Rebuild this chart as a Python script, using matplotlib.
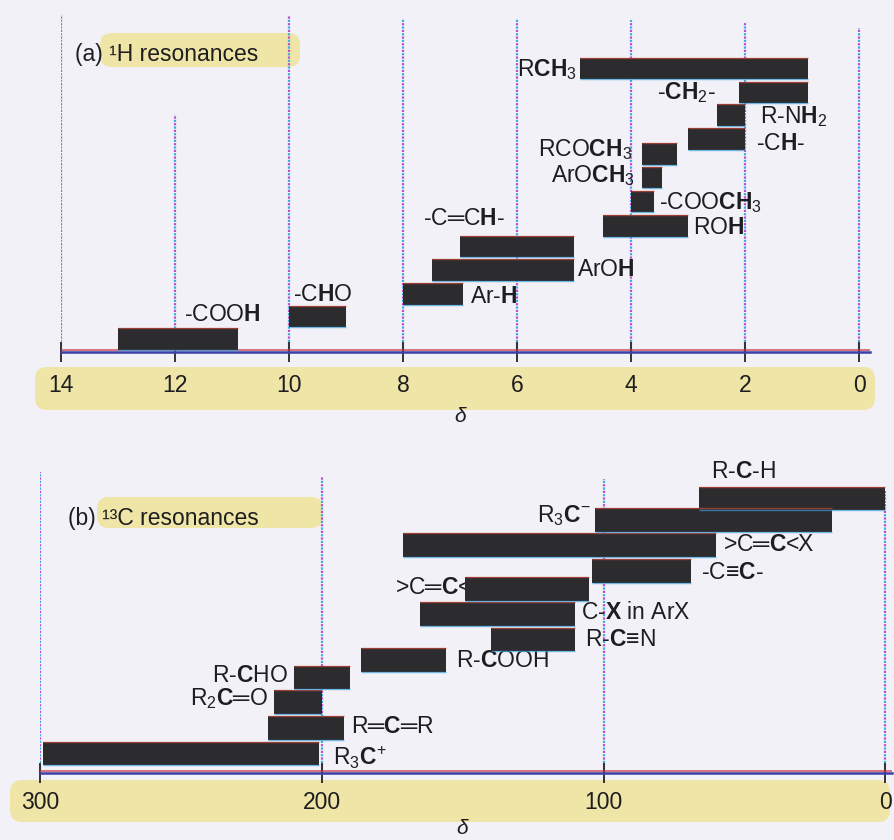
import matplotlib
matplotlib.use('Agg')
import matplotlib.pyplot as plt
from matplotlib.patches import FancyBboxPatch
from matplotlib.transforms import IdentityTransform

plt.rcParams['font.family'] = ['Liberation Sans', 'DejaVu Sans']
plt.rcParams['mathtext.fontset'] = 'custom'
plt.rcParams['mathtext.rm'] = 'Liberation Sans'
plt.rcParams['mathtext.bf'] = 'Liberation Sans:bold'
plt.rcParams['mathtext.it'] = 'Liberation Sans:italic'
plt.rcParams['mathtext.sf'] = 'Liberation Sans'
plt.rcParams['mathtext.default'] = 'regular'
plt.rcParams['mathtext.fallback'] = 'stixsans'

W, H = 894, 840
BG = '#f3f1f8'
BAR = '#2c2b2e'
HL = '#efe5a6'
TXT = '#1e1d20'

# ---- (a) 1H resonances, delta ranges in ppm
h_names = [r'-COO$\mathbf{H}$', r'-C$\mathbf{H}$O', r'Ar-$\mathbf{H}$', r'ArO$\mathbf{H}$',
           r'-C═C$\mathbf{H}$-', r'RO$\mathbf{H}$', r'-COO$\mathbf{CH}_3$', r'ArO$\mathbf{CH}_3$',
           r'RCO$\mathbf{CH}_3$', r'-C$\mathbf{H}$-', r'R-N$\mathbf{H}_2$', r'-$\mathbf{CH}_2$-',
           r'R$\mathbf{CH}_3$']
h_lo = [10.9, 9.0, 6.95, 5.0, 5.0, 3.0, 3.6, 3.45, 3.2, 2.0, 2.0, 0.9, 0.9]
h_hi = [13.0, 10.0, 8.0, 7.5, 7.0, 4.5, 4.0, 3.8, 3.8, 3.0, 2.5, 2.1, 4.9]
h_ticks = [14, 12, 10, 8, 6, 4, 2, 0]

# ---- (b) 13C resonances
c_names = [r'R-$\mathbf{C}$-H', r'R$_3$$\mathbf{C}^{-}$', r'>C═$\mathbf{C}$<X', r'-C≡$\mathbf{C}$-',
           r'>C═$\mathbf{C}$<', r'C-$\mathbf{X}$ in ArX', r'R-$\mathbf{C}$≡N', r'R-$\mathbf{C}$OOH',
           r'R-$\mathbf{C}$HO', r'R$_2$$\mathbf{C}$═O', r'R═$\mathbf{C}$═R', r'R$_3$$\mathbf{C}^{+}$']
c_lo = [0, 19, 60, 69, 105, 110, 110, 156, 190, 200, 192, 201]
c_hi = [66, 103, 171, 104, 149, 165, 140, 186, 210, 217, 219, 299]
c_ticks = [300, 200, 100, 0]

# layout: row levels, label placement (side, dx px, dy px), gridline tops
h_rows = [0.56, 1.52, 2.49, 3.52, 4.53, 5.41, 6.46, 7.49, 8.5, 9.14, 10.17, 11.14, 12.17]
h_place = [('A', 66, 24), ('A', 4, 22), ('R', 7, -3), ('R', 3, 0), ('A', -37, 28), ('R', 5, -2),
           ('R', 5, -1), ('L', -7, 2), ('L', -10, 4), ('R', 11, -4), ('R', 15, -2), ('L', -23, 0),
           ('L', -3, -1)]
h_tops = [14.46, 10.17, 14.4, 14.3, 14.3, 14.25, 14.1, 13.9]

c_rows = [11.78, 10.86, 9.79, 8.67, 7.9, 6.82, 5.73, 4.85, 4.1, 3.05, 1.93, 0.84]
c_place = [('A', 12, 27), ('L', -4, 4), ('R', 7, 0), ('R', 10, -2), ('L', 6, 1), ('R', 6, 2),
           ('R', 10, 0), ('R', 10, -1), ('L', -6, 2), ('L', -6, 3), ('R', 7, 2), ('R', 14, -4)]
c_tops = [12.9, 12.7, 12.6, 12.1]


def highlight(fig, x0, y0, x1, y1):
    p = FancyBboxPatch((x0, H - y1), x1 - x0, y1 - y0,
                       boxstyle='round,pad=0,rounding_size=12',
                       transform=IdentityTransform(), fc=HL, ec='none', zorder=0)
    fig.add_artist(p)


def panel(ax, names, lo, hi, rows, place, ticks, tops, bar_h, pad):
    ax.set_facecolor('none')
    for s in ['top', 'left', 'right']:
        ax.spines[s].set_visible(False)
    ax.spines['bottom'].set_position(('data', 0))
    ax.spines['bottom'].set_color('#3b3fa8')
    ax.spines['bottom'].set_linewidth(1.8)
    ax.axhline(0.07, color='#c8323c', lw=1.1, alpha=0.85, zorder=2)
    ax.set_yticks([])
    ax.set_xticks(ticks)
    ax.set_xticklabels([str(t) for t in ticks])
    ax.tick_params(axis='x', direction='inout', length=14, width=1.4, color='#333333',
                   labelsize=16.5, labelcolor=TXT, pad=pad)

    # dotted guide lines (scan colours)
    ax.vlines(ticks, 0, tops, colors='#b84fd0', linestyles=(0, (1, 2)), lw=1.6, zorder=1)
    ax.vlines(ticks, 0, tops, colors='#3aaee0', linestyles=(1.5, (1, 2)), lw=1.6, zorder=1)

    widths = [h - l for l, h in zip(lo, hi)]
    ax.barh(rows, widths, left=lo, height=bar_h, color=BAR, zorder=3)
    # colour fringes of the print
    ax.hlines([r + bar_h / 2 for r in rows], lo, hi, colors='#c84a3a', lw=1.0, alpha=0.7, zorder=3)
    ax.hlines([r - bar_h / 2 for r in rows], lo, hi, colors='#3a9ed8', lw=1.0, alpha=0.7, zorder=3)

    for name, l, h, r, (side, dx, dy) in zip(names, lo, hi, rows, place):
        if side == 'R':
            x, ha = l, 'left'
        elif side == 'L':
            x, ha = h, 'right'
        else:
            x, ha = h, 'left'
        ax.annotate(name, xy=(x, r), xytext=(dx, dy), textcoords='offset pixels',
                    ha=ha, va='center', fontsize=16.5, color=TXT, zorder=2,
                    annotation_clip=False)


fig = plt.figure(figsize=(W / 100, H / 100), dpi=100, facecolor=BG)

highlight(fig, 100, 33, 300, 67)
highlight(fig, 35, 367, 875, 410)
highlight(fig, 97, 497, 323, 528)
highlight(fig, 10, 780, 890, 822)

ax1 = fig.add_axes([61 / W, 1 - 352 / H, (870 - 61) / W, 342 / H])
ax1.set_xlim(14, 14 - (870 - 61) / 57.0)
ax1.set_ylim(0, 342 / 23.3)
panel(ax1, h_names, h_lo, h_hi, h_rows, h_place, h_ticks, h_tops, 0.92, 9)

ax2 = fig.add_axes([40 / W, 1 - 773 / H, (892 - 40) / W, 333 / H])
ax2.set_xlim(300, 300 - 852 / 2.8175)
ax2.set_ylim(0, 333 / 23.3)
panel(ax2, c_names, c_lo, c_hi, c_rows, c_place, c_ticks, c_tops, 1.0, 6)

fig.text(75 / W, 1 - 55 / H, '(a) ¹H resonances', fontsize=16.5, color=TXT, va='center')
fig.text(68 / W, 1 - 518 / H, '(b) ¹³C resonances', fontsize=16.5, color=TXT, va='center')
fig.text(460 / W, 1 - 416 / H, 'δ', fontsize=15, style='italic', color=TXT, ha='center', va='center')
fig.text(462 / W, 2 / H, 'δ', fontsize=15, style='italic', color=TXT, ha='center', va='bottom')

fig.savefig('out.png', dpi=100, facecolor=BG)
